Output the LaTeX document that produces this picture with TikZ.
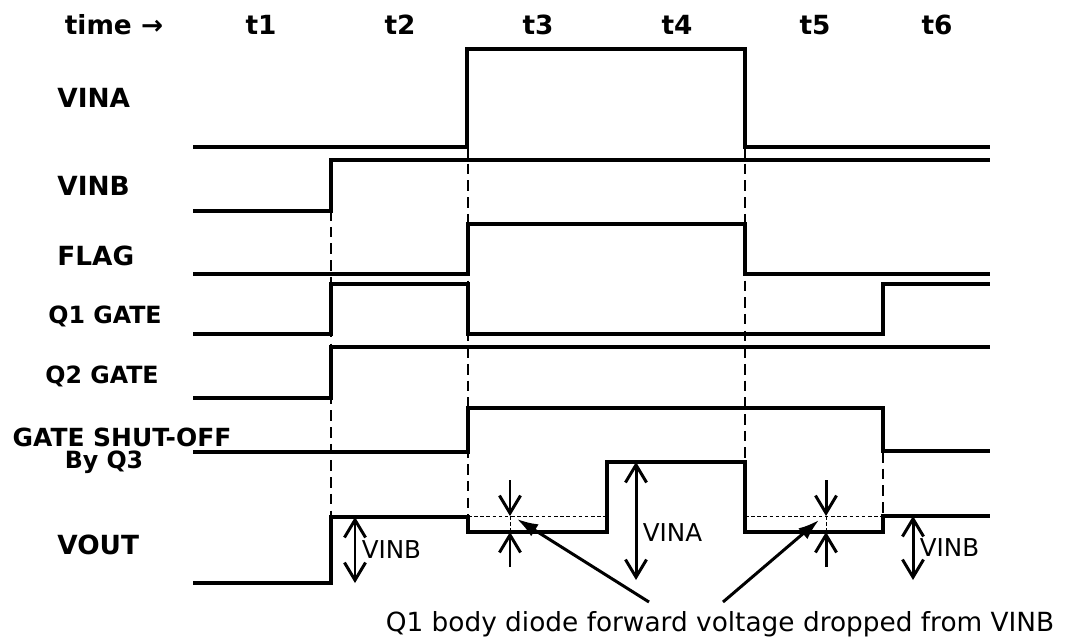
\documentclass[tikz,border=0pt]{standalone}
\usepackage{fontspec}
\setmainfont{DejaVu Sans}
\usetikzlibrary{arrows.meta,positioning}

\begin{document}
\begin{tikzpicture}[
    x=0.02cm, y=-0.02cm,
    sig/.style={line width=2.6pt, line join=miter},
    guide/.style={line width=1.5pt, dash pattern=on 6pt off 3.5pt},
    level/.style={line width=0.5pt, dash pattern=on 2pt off 1.5pt},
    dim/.style={{Straight Barb[length=10pt,width=12pt]}-{Straight Barb[length=10pt,width=12pt]}, line width=1.7pt},
    tick/.style={-{Straight Barb[length=10pt,width=12pt]}, line width=1.7pt},
    pointer/.style={-{Latex[length=12pt,width=8pt]}, line width=1.7pt},
    sig_name/.style={font=\bfseries\fontsize{15}{17}\selectfont, inner sep=0pt},
    gate_name/.style={font=\bfseries\fontsize{13.5}{16}\selectfont, inner sep=0pt},
    time_name/.style={font=\bfseries\fontsize{15}{17}\selectfont, inner sep=0pt},
    dim_label/.style={font=\fontsize{14}{16}\selectfont, inner sep=3pt}
]
\useasboundingbox (0,0) rectangle (1065,640);

% --- TIME AXIS ---
\node[time_name] (time) at (114,25) {time →};
\foreach \t/\x in {1/261, 2/400, 3/538, 4/677, 5/815, 6/937}
    \node[time_name] (t\t) at (\x,25) {t\t};

% --- SIGNAL NAMES ---
\node[sig_name, anchor=west] (vina) at (57,98) {VINA};
\node[sig_name, anchor=west] (vinb) at (57,186) {VINB};
\node[sig_name, anchor=west] (flag) at (57,256) {FLAG};
\node[gate_name] (q1) at (105,316) {Q1 GATE};
\node[gate_name] (q2) at (102,376) {Q2 GATE};
\node[gate_name, font=\bfseries\fontsize{14.2}{16}\selectfont] (shutoff) at (122,437) {GATE SHUT-OFF};
\node[gate_name] (byq3) at (104,462) {By Q3};
\node[sig_name, anchor=west] (vout) at (57,545) {VOUT};

% --- GUIDE LINES ---
\draw[guide] (331,160) -- (331,517);
\draw[guide] (468,147) -- (468,516);
\draw[guide] (745,147) -- (745,462);
\draw[guide] (883,452) -- (883,516);
\draw[level] (468,516) -- (607,516);
\draw[level] (745,516) -- (883,516);

% --- WAVEFORMS ---
\draw[sig] (193,147) -- (467,147) -- (467,49) -- (745,49) -- (745,147) -- (990,147);
\draw[sig] (193,211) -- (331,211) -- (331,160) -- (990,160);
\draw[sig] (193,274) -- (468,274) -- (468,224) -- (745,224) -- (745,274) -- (990,274);
\draw[sig] (193,334) -- (331,334) -- (331,284) -- (468,284) -- (468,334) -- (883,334) -- (883,284) -- (990,284);
\draw[sig] (193,398) -- (331,398) -- (331,347) -- (990,347);
\draw[sig] (193,452) -- (468,452) -- (468,408) -- (883,408) -- (883,451) -- (990,451);
\draw[sig] (193,583) -- (331,583) -- (331,517) -- (468,517) -- (468,532) -- (607,532)
    -- (607,462) -- (745,462) -- (745,532) -- (883,532) -- (883,516) -- (990,516);

% --- LEVEL ARROWS ---
\coordinate (vb_top) at (355,517);
\coordinate (vb_bot) at (355,583);
\draw[dim] (vb_top) -- (vb_bot) node[midway, right, dim_label] {VINB};

\coordinate (va_top) at (636,462);
\coordinate (va_bot) at (636,580);
\draw[dim] (va_top) -- (va_bot) node[pos=0.6, right, dim_label] {VINA};

\coordinate (vb2_top) at (913,516);
\coordinate (vb2_bot) at (913,580);
\draw[dim] (vb2_top) -- (vb2_bot) node[midway, right, dim_label] {VINB};

% drop markers
\foreach \x [count=\i] in {510, 826} {
    \coordinate (drop\i_hi) at (\x,516);
    \coordinate (drop\i_lo) at (\x,532);
    \draw[tick] (\x,480) -- (drop\i_hi);
    \draw[tick] (\x,567) -- (drop\i_lo);
    \draw[level] (drop\i_hi) -- (drop\i_lo);
}

% --- NOTE ---
\node[dim_label, font=\fontsize{15}{17}\selectfont] (note) at (720,624) {Q1 body diode forward voltage dropped from VINB};
\coordinate (note_l) at (649,602);
\coordinate (note_r) at (723,602);
\draw[pointer] (note_l) -- (517,519);
\draw[pointer] (note_r) -- (819,520);

\end{tikzpicture}
\end{document}
